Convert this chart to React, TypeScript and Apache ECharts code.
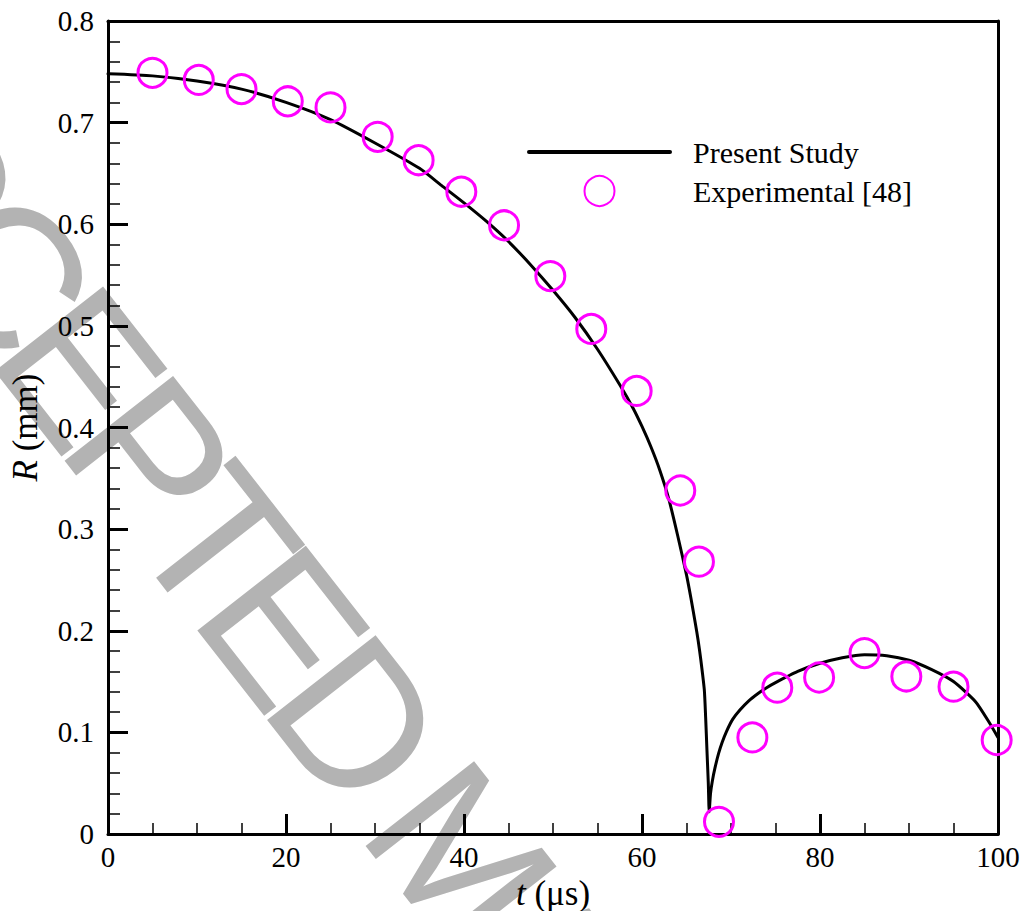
import React, { useEffect, useRef } from 'react';
import * as echarts from 'echarts';

// Simulated bubble radius (Present Study)
const lineT = [0, 5, 10, 15, 20, 25, 30, 35, 37.5, 40, 42.5, 45, 47.5, 50, 52.5, 55, 57.5, 59, 60, 61, 62, 63, 64, 65, 65.5, 66, 66.3, 66.6, 67, 67.15, 67.3, 67.45, 67.55, 67.7, 67.9, 68.2, 68.6, 69, 69.5, 70.2, 71, 72, 73, 74, 75, 77.5, 80, 82.5, 85, 87.5, 90, 92.5, 95, 97.5, 99, 100];
const lineR = [0.748, 0.746, 0.741, 0.733, 0.72, 0.703, 0.68, 0.655, 0.638, 0.621, 0.603, 0.583, 0.56, 0.535, 0.508, 0.477, 0.442, 0.419, 0.401, 0.381, 0.358, 0.33, 0.294, 0.255, 0.232, 0.207, 0.191, 0.172, 0.142, 0.115, 0.082, 0.05, 0.022, 0.04, 0.052, 0.065, 0.079, 0.09, 0.101, 0.113, 0.122, 0.131, 0.138, 0.144, 0.149, 0.16, 0.168, 0.1735, 0.1765, 0.1755, 0.171, 0.162, 0.15, 0.13, 0.11, 0.095];

// Experimental [48]
const expT = [5, 10.2, 15, 20.2, 25, 30.3, 34.9, 39.7, 44.5, 49.7, 54.3, 59.4, 64.3, 66.4, 68.65, 72.4, 75.2, 79.9, 85, 89.7, 95, 99.85];
const expR = [0.749, 0.742, 0.733, 0.721, 0.715, 0.686, 0.663, 0.632, 0.599, 0.549, 0.497, 0.436, 0.338, 0.268, 0.012, 0.095, 0.144, 0.154, 0.178, 0.155, 0.145, 0.0925];

const seriesNames = ['Present Study', 'Experimental [48]'];
const xName = '{i|t} (\u03bcs)';
const yName = '{i|R} (mm)';
const watermark = 'ACCEPTED MANUSCRIPT';

const SERIF = 'Liberation Serif';
const TICKFONT = 'Times New Roman';

function buildWatermark() {
  const adv: Record<string, number> = { A: 0.667, C: 0.722, E: 0.667, P: 0.667, T: 0.611, D: 0.722, ' ': 0.278, M: 0.833, N: 0.722, U: 0.722, S: 0.667, R: 0.722, I: 0.278 };
  const fs = 200;
  const track = -20;
  const ang = (52 * Math.PI) / 180;
  const ux = Math.cos(ang), uy = Math.sin(ang);
  const upx = Math.sin(ang), upy = -Math.cos(ang);
  const ex = -15, ey = 358; // baseline-left of the first "E"
  const chars = watermark.split('');
  const s: number[] = [];
  let acc = 0;
  chars.forEach((c) => { s.push(acc); acc += (adv[c] || 0.667) * fs + track; });
  const ref = s[3];
  const els: any[] = [];
  chars.forEach((c, i) => {
    if (c === ' ') return;
    const d = s[i] - ref;
    const bx = ex + d * ux, by = ey + d * uy;
    const x = bx + 69 * upx, y = by + 69 * upy;
    if (y > 1100) return;
    els.push({
      type: 'text', x, y, rotation: -ang, z: -5, silent: true,
      style: { text: c, fontSize: fs, fontFamily: 'Liberation Sans', fill: '#b3b3b3', align: 'left', verticalAlign: 'middle' },
    });
  });
  return els;
}

export default function App() {
  const ref = useRef<HTMLDivElement>(null);
  useEffect(() => {
    const chart = echarts.init(ref.current!, null, { renderer: 'svg' });
    const axisLine = { show: true, onZero: false, lineStyle: { color: '#000', width: 3 } };
    const nameStyle = { color: '#000', fontFamily: SERIF, fontSize: 35, rich: { i: { fontStyle: 'italic', fontFamily: SERIF, fontSize: 35, color: '#000' } } };
    const tickLabel = (margin: number) => ({
      show: true, color: '#000', fontFamily: TICKFONT, fontSize: 29, fontStyle: 'normal', fontWeight: 'normal', margin,
    });
    const option: any = {
      animation: false,
      backgroundColor: '#fff',
      textStyle: { fontFamily: SERIF, color: '#000' },
      graphic: buildWatermark(),
      grid: { left: 108, right: 27, top: 21, bottom: 77, containLabel: false, outerBoundsMode: 'none' },
      legend: {
        orient: 'vertical', left: 527, top: 137, padding: 0, itemWidth: 141, itemHeight: 30, itemGap: 8,
        textStyle: { color: '#000', fontFamily: SERIF, fontSize: 30, padding: [0, 0, 0, 18] },
        data: [
          { name: seriesNames[0], itemStyle: { opacity: 0 }, lineStyle: { width: 4, color: '#000' } },
          { name: seriesNames[1] },
        ],
      },
      xAxis: [
        {
          type: 'value', min: 0, max: 100, interval: 20, position: 'bottom',
          axisLine,
          axisTick: { show: true, inside: true, length: 20, lineStyle: { color: '#000', width: 3 } },
          minorTick: { show: true, splitNumber: 4, length: 11, lineStyle: { color: '#000', width: 1.5 } },
          axisLabel: tickLabel(8),
          splitLine: { show: false },
          name: xName, nameLocation: 'middle', nameGap: 38, nameTextStyle: nameStyle,
        },
        {
          type: 'value', min: 0, max: 100, position: 'top',
          axisLine, axisTick: { show: false }, axisLabel: { show: false }, splitLine: { show: false },
        },
      ],
      yAxis: [
        {
          type: 'value', min: 0, max: 0.8, interval: 0.1, position: 'left',
          axisLine,
          axisTick: { show: true, inside: true, length: 20, lineStyle: { color: '#000', width: 3 } },
          minorTick: { show: true, splitNumber: 5, length: 12, lineStyle: { color: '#000', width: 1.5 } },
          axisLabel: tickLabel(14),
          splitLine: { show: false },
          name: yName, nameLocation: 'middle', nameGap: 65, nameTextStyle: nameStyle,
        },
        {
          type: 'value', min: 0, max: 0.8, position: 'right',
          axisLine, axisTick: { show: false }, axisLabel: { show: false }, splitLine: { show: false },
        },
      ],
      series: [
        {
          name: seriesNames[0], type: 'line', xAxisIndex: 0, yAxisIndex: 0,
          data: lineT.map((t, i) => [t, lineR[i]]),
          showSymbol: false, symbol: 'none', smooth: 0.2,
          lineStyle: { color: '#000', width: 3, cap: 'round', join: 'round' },
          itemStyle: { color: '#000' },
          z: 2,
        },
        {
          name: seriesNames[1], type: 'scatter', xAxisIndex: 0, yAxisIndex: 0,
          data: expT.map((t, i) => [t, expR[i]]),
          symbol: 'circle', symbolSize: 29,
          itemStyle: { color: 'rgba(0,0,0,0)', borderColor: '#ff00ff', borderWidth: 3, opacity: 1 },
          z: 3,
        },
      ],
    };
    chart.setOption(option);
    return () => chart.dispose();
  }, []);
  return <div ref={ref} style={{ position: 'fixed', left: 0, top: 0, width: 1025, height: 911, background: '#fff' }} />;
}
